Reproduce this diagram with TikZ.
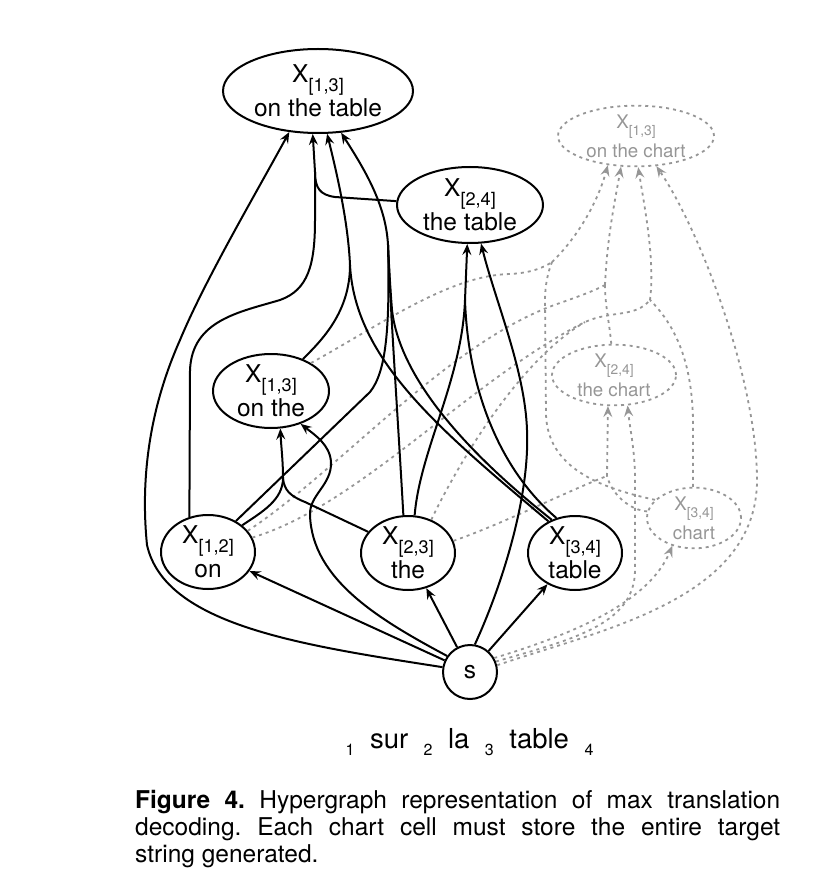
\documentclass[tikz,border=0pt]{standalone}
\usepackage{fontspec}
\setmainfont{TeX Gyre Heros}
\usepackage{graphicx}
\usepackage{tikz}
\usetikzlibrary{shapes.geometric,arrows.meta}
\definecolor{chartgray}{RGB}{150,150,150}
\newcommand{\cellfont}{\fontsize{24.5}{34}\selectfont}
\newcommand{\chartfont}{\fontsize{18.7}{29}\selectfont}
\newcommand{\spn}[1]{\raisebox{-0.37em}{\scalebox{0.74}{[#1]}}}
\newcommand{\idx}[1]{\raisebox{-7.5pt}{\fontsize{16}{16}\selectfont #1}}
\frenchspacing

\begin{document}
\begin{tikzpicture}[x=1pt,y=1pt]
            \tikzstyle{every node}+=[inner sep=0pt]
            \tikzstyle{cell}=[draw, ellipse, line width=2pt, align=center, font=\cellfont]
            \tikzstyle{chartcell}=[draw=chartgray, ellipse, line width=1.8pt, dash pattern=on 3pt off 4pt, align=center, font=\chartfont, text=chartgray]
            \tikzstyle{link}=[line width=2pt]
            \tikzstyle{hyper}=[link, -{Stealth[length=11pt,width=9pt,inset=4pt]}]
            \tikzstyle{chartlink}=[chartgray, line width=1.8pt, dash pattern=on 3pt off 4pt]
            \tikzstyle{charthyper}=[chartlink, -{Stealth[length=11pt,width=9pt,inset=4pt]}]
            \useasboundingbox (0,0) rectangle (812,-890);
            \node [cell, minimum width=190pt, minimum height=84pt] (ontable) at (318,-91) {X\spn{1,3}\\on the table};
            \node [cell, minimum width=146pt, minimum height=76pt] (thetable) at (470,-205) {X\spn{2,4}\\the table};
            \node [cell, minimum width=116pt, minimum height=74pt] (onthe) at (271,-391) {X\spn{1,3}\\on the};
            \node [cell, minimum width=94pt, minimum height=74pt] (on) at (208,-552) {X\spn{1,2}\\on};
            \node [cell, minimum width=94pt, minimum height=74pt] (the) at (408,-553) {X\spn{2,3}\\the};
            \node [cell, minimum width=94pt, minimum height=74pt] (table) at (575,-553) {X\spn{3,4}\\table};
            \node [draw, circle, line width=2pt, minimum size=54pt, font=\cellfont] (s) at (470,-672) {s};
            \node [chartcell, minimum width=156pt, minimum height=60pt] (onchart) at (636,-136) {X\spn{1,3}\\on the chart};
            \node [chartcell, minimum width=124pt, minimum height=60pt] (thechart) at (614,-375) {X\spn{2,4}\\the chart};
            \node [chartcell, minimum width=94pt, minimum height=60pt] (chart) at (694,-518) {X\spn{3,4}\\chart};
            \node [font=\fontsize{27.5}{27.5}\selectfont, anchor=base] (words) at (469.5,-748.3) {\idx{1}\hspace{15.5pt}sur\hspace{15.5pt}\idx{2}\hspace{15.5pt}la\hspace{15.5pt}\idx{3}\hspace{15.5pt}table\hspace{15.5pt}\idx{4}};
            \node [anchor=north west, text width=645pt, align=justify, font=\fontsize{24.5}{26.7}\selectfont] (caption) at (135,-790.5) {\textbf{Figure 4.} Hypergraph representation of max translation\linebreak decoding. Each chart cell must store the entire target\linebreak string generated.};
            \draw [charthyper] (s.30) .. controls (580,-632) and (650,-600) .. (chart.232);
            \draw [charthyper] (s.22) .. controls (570,-640) and (635,-625) .. (635,-570) -- (635,-480) .. controls (635,-450) and (630,-430) .. (thechart.294);
            \draw [charthyper] (s.14) .. controls (600,-630) and (757,-600) .. (757,-480) .. controls (757,-380) and (700,-230) .. (onchart.304);
            \coordinate (jec) at (607,-476);
            \draw [chartlink] (the.15) .. controls (500,-525) and (570,-490) .. (jec);
            \draw [chartlink] (chart.172) .. controls (630,-510) and (612,-495) .. (jec);
            \draw [charthyper] (jec) -- (thechart.259);
            \coordinate (jcc) at (552,-262);
            \draw [chartlink] (onthe.35) .. controls (380,-325) and (450,-275) .. (510,-274) .. controls (530,-273) and (543,-268) .. (jcc);
            \draw [chartlink] (chart.155) .. controls (600,-488) and (548,-468) .. (546,-415) -- (545,-300) .. controls (545,-285) and (548,-272) .. (jcc);
            \draw [charthyper] (jcc) .. controls (575,-240) and (597,-205) .. (onchart.226);
            \coordinate (jbc) at (605,-285);
            \draw [chartlink] (on.28) .. controls (340,-470) and (450,-340) .. (560,-303) .. controls (580,-296) and (596,-290) .. (jbc);
            \draw [chartlink] (thechart.95) .. controls (609,-320) and (605,-305) .. (jbc);
            \draw [charthyper] (jbc) .. controls (607,-240) and (614,-205) .. (onchart.244);
            \coordinate (jdc) at (650,-300);
            \coordinate (jdm) at (585,-322);
            \draw [chartlink] (on.18) .. controls (360,-505) and (470,-380) .. (jdm) .. controls (612,-310) and (635,-318) .. (jdc);
            \draw [chartlink] (the.55) .. controls (460,-460) and (520,-360) .. (jdm);
            \draw [chartlink] (chart.92) -- (693,-420) .. controls (692,-370) and (680,-330) .. (jdc);
            \draw [charthyper] (jdc) .. controls (655,-260) and (645,-210) .. (onchart.274);
            \draw [hyper] (s) -- (on);
            \draw [hyper] (s) -- (the);
            \draw [hyper] (s) -- (table);
            \draw [hyper] (s.170) .. controls (300,-645) and (165,-625) .. (147,-545) .. controls (138,-455) and (160,-385) .. (180,-340) .. controls (205,-280) and (255,-195) .. (ontable.235);
            \coordinate (jb) at (315,-172);
            \draw [link] (on.118) -- (190,-370) .. controls (192,-320) and (240,-312) .. (280,-300) .. controls (308,-290) and (315,-265) .. (315,-220) -- (jb);
            \draw [link] (thetable.177) -- (335,-197) .. controls (320,-195) and (315,-188) .. (jb);
            \draw [hyper] (jb) -- (ontable.263);
            \coordinate (jc) at (350,-265);
            \draw [link] (onthe.45) .. controls (322,-340) and (350,-312) .. (jc);
            \draw [link] (table.130) .. controls (440,-430) and (355,-360) .. (jc);
            \draw [hyper] (jc) .. controls (348,-220) and (336,-170) .. (ontable.282);
            \coordinate (jd) at (388,-245);
            \draw [link] (on.48) -- (370,-392) .. controls (386,-372) and (390,-330) .. (jd);
            \draw [link] (the.97) .. controls (398,-420) and (391,-320) .. (jd);
            \draw [link] (table.125) .. controls (470,-455) and (400,-380) .. (392,-310) .. controls (390,-285) and (389,-265) .. (jd);
            \draw [hyper] (jd) .. controls (386,-205) and (365,-170) .. (ontable.299);
            \coordinate (je) at (465,-300);
            \draw [link] (the.80) .. controls (420,-450) and (462,-380) .. (je);
            \draw [link] (table.118) .. controls (500,-470) and (468,-390) .. (je);
            \draw [hyper] (je) -- (thetable.266);
            \draw [hyper] (s.80) .. controls (500,-590) and (530,-500) .. (527,-430) .. controls (525,-370) and (495,-300) .. (thetable.286);
            \coordinate (jg) at (283,-478);
            \draw [link] (on.38) .. controls (262,-512) and (283,-500) .. (jg);
            \draw [link] (the.152) -- (305,-502) .. controls (290,-496) and (284,-490) .. (jg);
            \draw [hyper] (jg) .. controls (283,-460) and (281,-445) .. (onthe.284);
            \draw [hyper] (s.145) .. controls (380,-620) and (312,-580) .. (310,-515) .. controls (309,-495) and (332,-485) .. (331,-462) .. controls (330,-445) and (315,-435) .. (onthe.312);
\end{tikzpicture}
\end{document}
